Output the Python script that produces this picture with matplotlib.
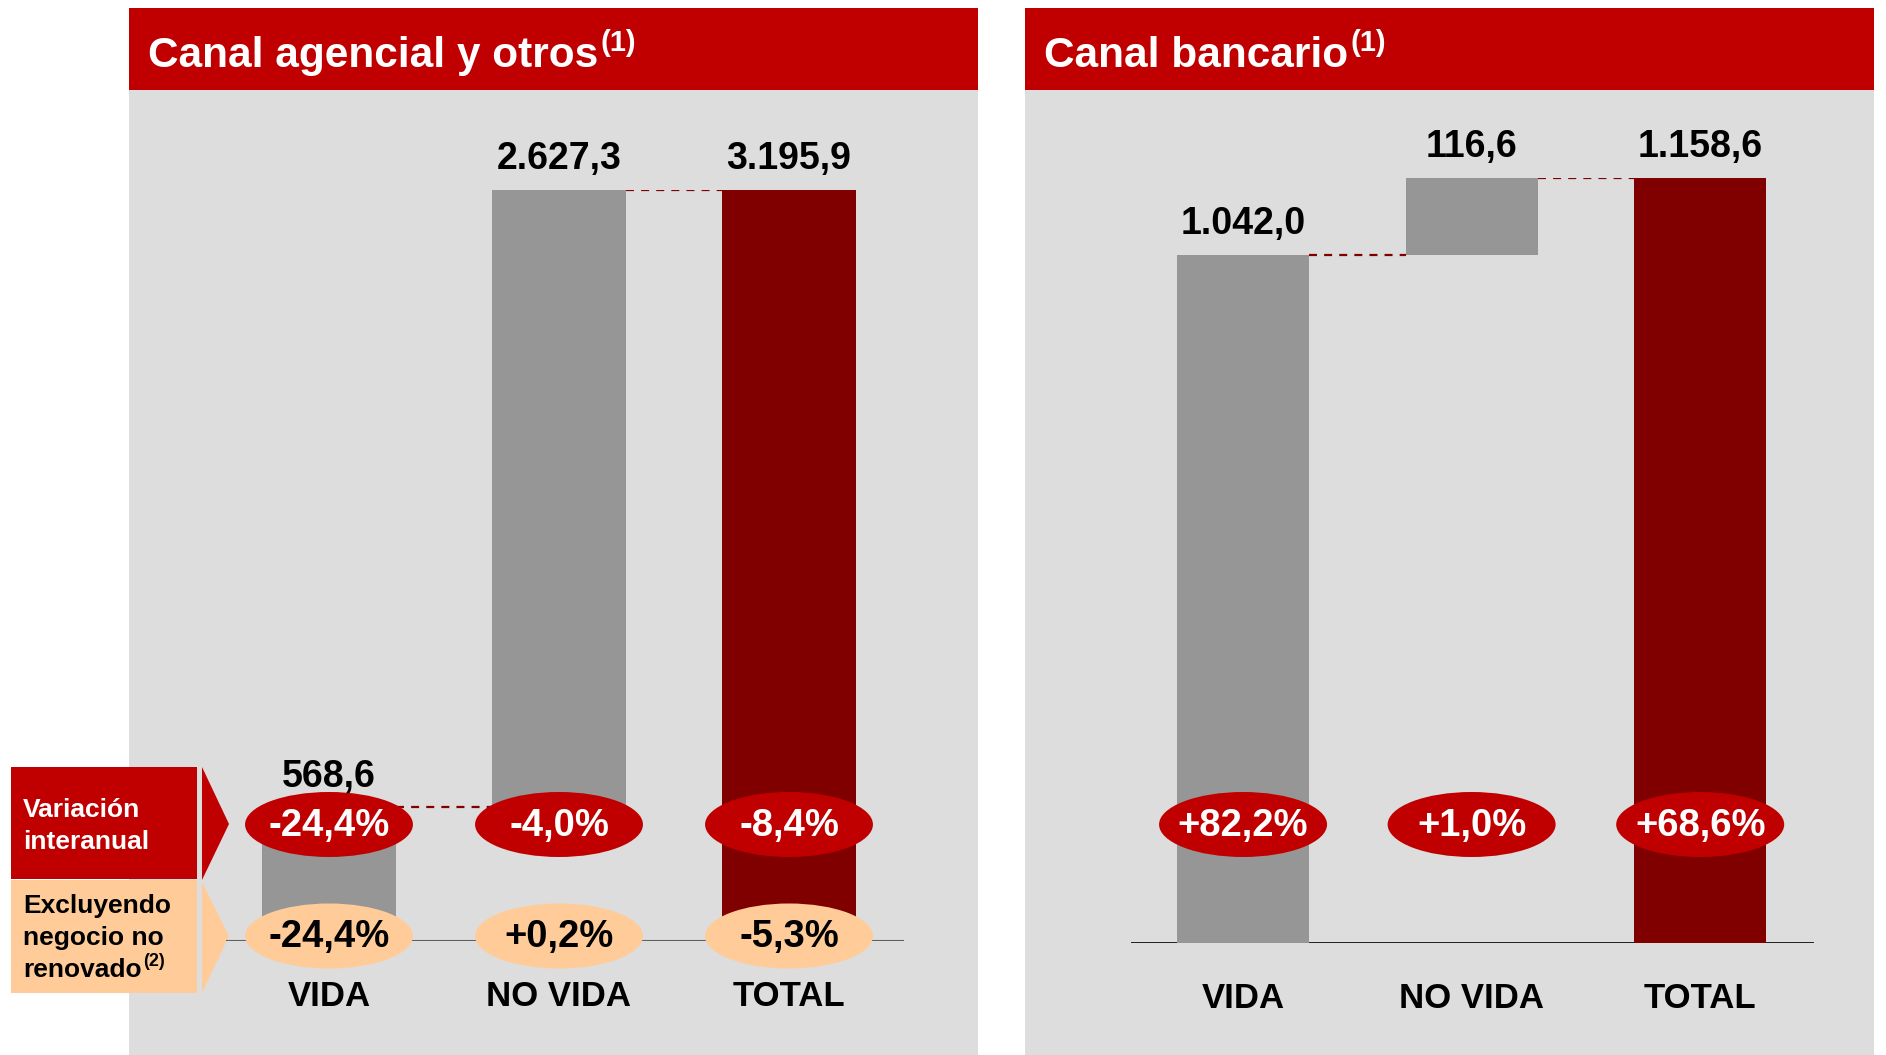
import matplotlib
matplotlib.use("Agg")
import matplotlib.pyplot as plt
from matplotlib.patches import Rectangle, Ellipse, Polygon
from matplotlib.transforms import blended_transform_factory

plt.rcParams['font.family'] = ['Liberation Sans', 'DejaVu Sans']
plt.rcParams['font.weight'] = 'bold'

# data
cats = ["VIDA", "NO VIDA", "TOTAL"]
agencial = [568.6, 2627.3, 3195.9]
agencial_var = [-24.4, -4.0, -8.4]
agencial_excl = [-24.4, 0.2, -5.3]
bancario = [1042.0, 116.6, 1158.6]
bancario_var = [82.2, 1.0, 68.6]

RED = "#C00000"
DARK = "#800000"
GREY = "#969696"
PANEL = "#DDDDDD"
PEACH = "#FFCC99"

W, H = 1886, 1055
fig = plt.figure(figsize=(W / 100, H / 100), dpi=100)

# background layer in pixel coords (y from top)
bg = fig.add_axes([0, 0, 1, 1], zorder=0)
bg.set_xlim(0, W)
bg.set_ylim(H, 0)
bg.axis("off")


def px_axes(x0, x1, ytop, ybot):
    return fig.add_axes([x0 / W, (H - ybot) / H, (x1 - x0) / W, (ybot - ytop) / H], zorder=1)


def es(v, fmt):
    s = format(v, fmt)
    return s.replace(",", "_").replace(".", ",").replace("_", ".")


# panels and headers
for x0, x1, title in [(129, 978, "Canal agencial y otros"), (1025, 1874, "Canal bancario")]:
    bg.add_patch(Rectangle((x0, 90), x1 - x0, H - 90, color=PANEL, lw=0))
    bg.add_patch(Rectangle((x0, 8), x1 - x0, 82, color=RED, lw=0))
    t = bg.text(x0 + 19, 67, title, color="white", fontsize=30.5, va="baseline")
    bg.annotate("(1)", xy=(1, 29), xycoords=(t, "data"), xytext=(1.5, 0),
                textcoords="offset points", color="white", fontsize=21, va="top", ha="left")

# row legend on the left
bg.add_patch(Rectangle((11, 767), 186, 112, color=RED, lw=0))
bg.add_patch(Rectangle((11, 880), 186, 113, color=PEACH, lw=0))
bg.add_patch(Polygon([(202, 767), (229, 824), (202, 880)], color=RED, lw=0))
bg.add_patch(Polygon([(202, 882), (229, 936), (202, 993)], color=PEACH, lw=0))
bg.text(23, 810, "Variación", color="white", fontsize=19, va="center")
bg.text(23, 842, "interanual", color="white", fontsize=19, va="center")
bg.text(23, 906, "Excluyendo", color="black", fontsize=19, va="center")
bg.text(23, 938, "negocio no", color="black", fontsize=19, va="center")
t = bg.text(23, 970, "renovado", color="black", fontsize=19, va="center")
bg.annotate("(2)", xy=(1, 953), xycoords=(t, "data"), xytext=(1, 0),
            textcoords="offset points", color="black", fontsize=13, va="top", ha="left")


def waterfall(ax, vals, base_color, base_lw, w):
    n = len(vals)
    bottoms = [0, vals[0], 0]
    colors = [GREY, GREY, DARK]
    ax.bar(range(n), vals, bottom=bottoms, width=w, color=colors, zorder=2)
    ax.set_ylim(0, vals[-1])
    ax.axhline(0, color=base_color, lw=base_lw, zorder=1.5)
    tops = [b + v for b, v in zip(bottoms, vals)]
    for i in range(n - 1):
        ax.plot([i + w / 2, i + 1 - w / 2], [tops[i], tops[i]], color=DARK, lw=1.6,
                ls=(0, (3.6, 3.2)), zorder=1.8)
    for i, v in enumerate(vals):
        ax.annotate(es(v, ",.1f"), xy=(i, tops[i]), xytext=(0, 15), textcoords="offset points",
                    ha="center", va="baseline", fontsize=27, zorder=4)
    ax.set_xticks(range(n), cats)
    ax.tick_params(axis="x", length=0, pad=28, labelsize=25)
    ax.set_yticks([])
    for s in ax.spines.values():
        s.set_visible(False)
    ax.patch.set_alpha(0)


def pills(ax, vals, yc, face, txt, ew):
    tr = blended_transform_factory(ax.transData, bg.transData)
    for i, v in enumerate(vals):
        ax.add_patch(Ellipse((i, yc), ew, 65, transform=tr, color=face, lw=0, zorder=3,
                             clip_on=False))
        ax.text(i, yc + 1, es(v, "+.1f") + "%", transform=tr, ha="center", va="center",
                color=txt, fontsize=27.5, zorder=4)


axL = px_axes(225.5, 904, 190, 941)
axL.set_xlim(-0.45, 2.5)
waterfall(axL, agencial, "#5F5F5F", 1.5, 0.58)
pills(axL, agencial_var, 824.5, RED, "white", 0.73)
pills(axL, agencial_excl, 936, PEACH, "black", 0.73)

axR = px_axes(1130.6, 1813.8, 178, 943)
axR.set_xlim(-0.492, 2.497)
waterfall(axR, bancario, "black", 1.2, 0.578)
pills(axR, bancario_var, 824.5, RED, "white", 0.735)

fig.savefig("out.png", dpi=100, facecolor="white")
